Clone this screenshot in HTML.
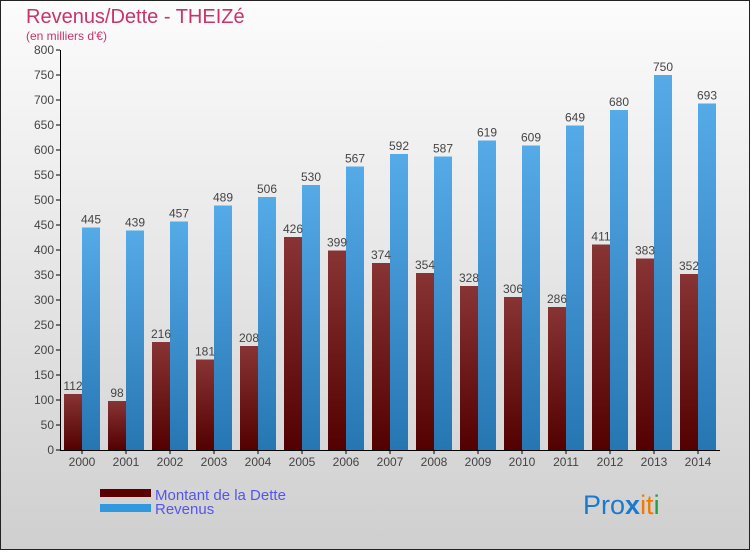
<!DOCTYPE html>
<html><head><meta charset="utf-8"><style>
body{margin:0}
svg text{font-family:"Liberation Sans",sans-serif}
</style></head><body>
<svg width="750" height="550" xmlns="http://www.w3.org/2000/svg">
<defs>
<linearGradient id="bg" x1="0" y1="0" x2="0" y2="1"><stop offset="0" stop-color="#fcfcfc"/><stop offset="1" stop-color="#cfcfcf"/></linearGradient>
<linearGradient id="gd" x1="0" y1="0" x2="0" y2="1"><stop offset="0" stop-color="#883434"/><stop offset="1" stop-color="#530000"/></linearGradient>
<linearGradient id="gr" x1="0" y1="0" x2="0" y2="1"><stop offset="0" stop-color="#55aae8"/><stop offset="1" stop-color="#2676b2"/></linearGradient>
</defs>
<rect x="0.5" y="0.5" width="749" height="549" fill="url(#bg)" stroke="#222"/>
<text x="26" y="23" font-size="20" fill="#c8336a">Revenus/Dette - THEIZé</text>
<text x="26" y="40" font-size="12" fill="#c8336a">(en milliers d'€)</text>
<g id="plot"></g>
<rect x="100" y="489" width="51" height="8" fill="#5a0000"/>
<rect x="100" y="504" width="51" height="8" fill="#2f99e0"/>
<text x="155" y="500" font-size="15" fill="#5555ee">Montant de la Dette</text>
<text x="155" y="514" font-size="15" fill="#5555ee">Revenus</text>
<text x="583" y="514" font-size="27" font-family="Liberation Sans,sans-serif"><tspan fill="#1a7ad0">Pro</tspan><tspan fill="#1a7ad0" font-weight="bold">x</tspan><tspan fill="#f07a00">it</tspan><tspan fill="#22a040">i</tspan></text>
</svg>
<script>
const years=["2000","2001","2002","2003","2004","2005","2006","2007","2008","2009","2010","2011","2012","2013","2014"];
const dette=[112,98,216,181,208,426,399,374,354,328,306,286,411,383,352];
const revenus=[445,439,457,489,506,530,567,592,587,619,609,649,680,750,693];
const yTicks=[0,50,100,150,200,250,300,350,400,450,500,550,600,650,700,750,800];
const NS="http://www.w3.org/2000/svg";
const g=document.getElementById('plot');
const x0=60,slot=44,y0=450,ys=0.5;
const Y=v=>y0-v*ys;
function mk(t,a,txt){const e=document.createElementNS(NS,t);for(const k in a)e.setAttribute(k,a[k]);if(txt!==undefined)e.textContent=txt;g.appendChild(e);return e;}
yTicks.forEach(v=>{
 const l=mk('line',{x1:x0-4,x2:x0,y1:Y(v),y2:Y(v),stroke:'#000'});
 
 
 const t=mk('text',{x:x0-6,y:Y(v)+4,'font-size':12,fill:'#444','text-anchor':'end'},v);
 
 
});
years.forEach((yr,i)=>{
 const c=x0+slot/2+slot*i;
 const b1=mk('rect',{x:c-18,y:Y(dette[i]),width:18,height:dette[i]*ys,fill:'url(#gd)'});
 
 
 const b2=mk('rect',{x:c,y:Y(revenus[i]),width:18,height:revenus[i]*ys,fill:'url(#gr)'});
 
 
 const t1=mk('text',{x:c-9,y:Y(dette[i])-4,'font-size':12,fill:'#444','text-anchor':'middle'},dette[i]);
 
 
 const t2=mk('text',{x:c+9,y:Y(revenus[i])-4,'font-size':12,fill:'#444','text-anchor':'middle'},revenus[i]);
 
 
 const tk=mk('line',{x1:c,x2:c,y1:y0,y2:y0+4,stroke:'#000'});
 
 
 const xl=mk('text',{x:c,y:y0+16,'font-size':12,fill:'#444','text-anchor':'middle'},yr);
 
 
});
const ya=mk('line',{x1:x0+0.5,x2:x0+0.5,y1:Y(800),y2:y0,stroke:'#000'});


const xa=mk('line',{x1:x0,x2:x0+slot*years.length,y1:y0+0.5,y2:y0+0.5,stroke:'#000'});


</script>
</body></html>
